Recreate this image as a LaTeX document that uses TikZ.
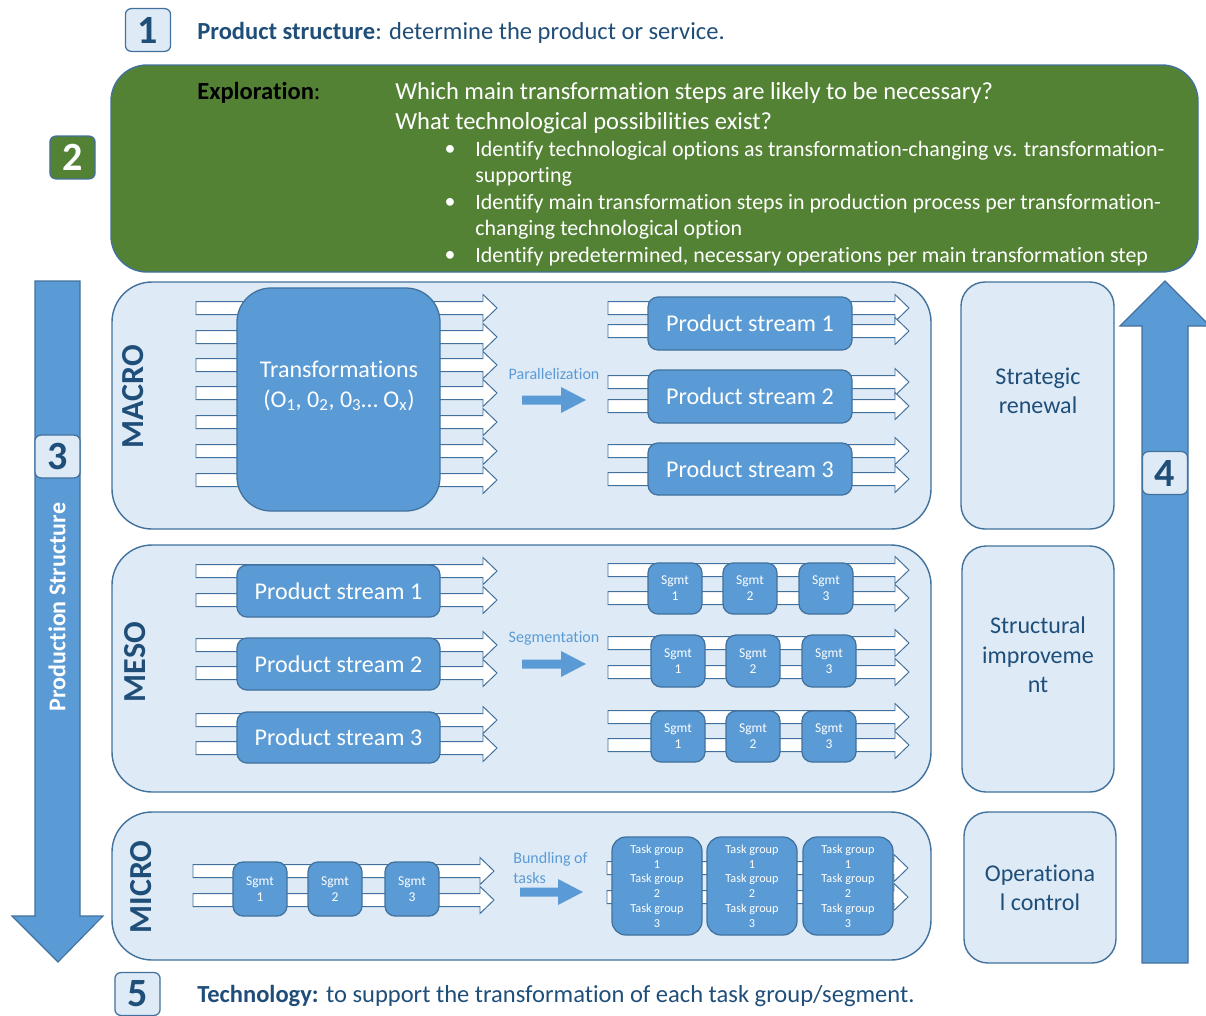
\documentclass[tikz,border=0pt]{standalone}
\usepackage{fontspec}
\setmainfont{Carlito}[Ligatures=NoCommon]
\usetikzlibrary{fit,positioning}
\definecolor{pNavy}{HTML}{1F4E79}
\definecolor{pPale}{HTML}{DEEBF7}
\definecolor{pEdge}{HTML}{41719C}
\definecolor{pMid}{HTML}{5B9BD5}
\definecolor{pGreen}{HTML}{548235}
% white flow arrow: x from, x to, y
\newcommand{\flowarr}[3]{%
  \draw[flow] (#1,#3-6.5) -- ({#2-14},#3-6.5) -- ({#2-14},#3-13.5) -- (#2,#3)
    -- ({#2-14},#3+13.5) -- ({#2-14},#3+6.5) -- (#1,#3+6.5) -- cycle;}
% small blue step arrow: x from, x to, y
\newcommand{\steparr}[3]{%
  \fill[pMid] (#1,#3-4.5) -- ({#2-25},#3-4.5) -- ({#2-25},#3-13) -- (#2,#3)
    -- ({#2-25},#3+13) -- ({#2-25},#3+4.5) -- (#1,#3+4.5) -- cycle;}
\tikzset{
  panel/.style   = {draw=pEdge, fill=pPale, line width=1pt, rounded corners=1cm,
                    inner sep=0pt},
  side/.style    = {panel, rounded corners=6mm},
  badge/.style   = {draw=pEdge, fill=pPale, line width=0.9pt, rounded corners=1.5mm,
                    minimum width=1.13cm, minimum height=1.07cm, inner sep=0pt,
                    text=pNavy, font=\bfseries\fontsize{28.5}{28.5}\selectfont},
  opbox/.style   = {draw=pEdge, fill=pMid, line width=0.9pt, inner sep=0pt},
  inlab/.style   = {text=white, inner sep=0pt, align=center},
  strbox/.style  = {opbox, rounded corners=2.5mm},
  strlab/.style  = {inlab, font=\fontsize{17.1}{20}\selectfont},
  sgbox/.style   = {opbox, rounded corners=2.5mm},
  sglab/.style   = {inlab, font=\fontsize{9.6}{11.4}\selectfont},
  tgbox/.style   = {opbox, rounded corners=3.5mm},
  tglab/.style   = {inlab, font=\fontsize{8.7}{10.5}\selectfont},
  flow/.style    = {draw=pEdge, fill=white, line width=0.7pt},
  bigarr/.style  = {draw=pEdge, fill=pMid, line width=0.8pt},
  lvl/.style     = {rotate=90, text=pNavy, inner sep=0pt,
                    font=\bfseries\fontsize{22.8}{22.8}\selectfont},
  steplab/.style = {text=pMid, inner sep=0pt, align=left,
                    font=\fontsize{11.4}{14}\selectfont},
  sidelab/.style = {text=pNavy, inner sep=0pt, align=center,
                    font=\fontsize{17.1}{21}\selectfont},
  hdr/.style     = {text=pNavy, inner sep=0pt, anchor=west,
                    font=\fontsize{17.45}{20}\selectfont},
  qtxt/.style    = {text=white, inner sep=0pt, anchor=west,
                    font=\fontsize{17.45}{20}\selectfont},
  btxt/.style    = {text=white, inner sep=0pt,
                    font=\fontsize{15.6}{18}\selectfont},
}
\begin{document}
\begin{tikzpicture}[x=0.025cm, y=-0.025cm]
  \useasboundingbox (0,0) rectangle (1206,1015);

  % step 1 and the exploration block
  \node[badge] (one) at (148,30) {1};
  \node[hdr] (prodtxt) at (197,33)
    {\textbf{Product structure}: determine the product or service.};
  \node[draw=pEdge, fill=pGreen, line width=1pt, rounded corners=9mm,
        inner sep=0pt, fit={(111,65) (1198,272)}] (explore) {};
  \node[badge, fill=pGreen, text=white] (two) at (72.5,157.5) {2};
  \node[hdr, text=black] (expl) at (197,93) {\textbf{Exploration}:};
  \node[qtxt] (q1) at (395,93)
    {Which main transformation steps are likely to be necessary?};
  \node[qtxt] (q2) at (395,123) {What technological possibilities exist?};
  \foreach \y in {150,203,256}
    \node[btxt] (dot\y) at (450,\y) {\textbullet};
  \foreach \y/\t in {150/{Identify technological options as transformation-changing vs. transformation-},
                     176/{supporting},
                     203/{Identify main transformation steps in production process per transformation-},
                     229/{changing technological option},
                     256/{Identify predetermined, necessary operations per main transformation step}}
    \node[btxt, anchor=west] (ln\y) at (475,\y+1) {\t};

  % production structure (down) and improvement (up)
  \draw[bigarr] (35,281) -- (80,281) -- (80,916) -- (103,916) -- (58,962)
    -- (12,916) -- (35,916) -- cycle;
  \draw[bigarr] (1142,963) -- (1142,326) -- (1120,326) -- (1165,281)
    -- (1210,326) -- (1188,326) -- (1188,963) -- cycle;
  \node[badge] (three) at (57.5,456.5) {3};
  \node[badge] (four) at (1165,473) {4};
  \node[rotate=90, text=white, inner sep=0pt,
        font=\bfseries\fontsize{17.1}{20}\selectfont] (prodstr) at (57,607)
    {Production Structure};

  % levels
  \node[panel, fit={(112,282) (931,529)}] (macro) {};
  \node[panel, fit={(112,545) (931,792)}] (meso) {};
  \node[panel, fit={(112,812) (931,960)}] (micro) {};
  \node[lvl] (lmacro) at (133,397) {MACRO};
  \node[lvl] (lmeso) at (135,662) {MESO};
  \node[lvl] (lmicro) at (141,887) {MICRO};

  \node[side, fit={(961,282) (1114,529)}] (strat) {};
  \node[side, fit={(962,546) (1114,792)}] (struct) {};
  \node[side, fit={(964,812) (1116,963)}] (opctl) {};
  \node[sidelab] (stratlab) at (1038,391) {Strategic\\renewal};
  \node[sidelab] (structlab) at (1038,655) {Structural\\improveme\\nt};
  \node[sidelab] (opctllab) at (1040,888) {Operationa\\l control};

  % macro
  \foreach \y in {308,337,365,393,422,451,480} {\flowarr{196}{497}{\y}}
  \foreach \y in {308,331,382,406,451,479} {\flowarr{608}{909}{\y}}
  \node[opbox, rounded corners=8.5mm, fit={(237,288) (440,511)}] (transf) {};
  \node[inlab, font=\fontsize{17.1}{21}\selectfont] (transflab) at (339,386)
    {Transformations\\(O\textsubscript{1}, 0\textsubscript{2}, 0\textsubscript{3}… O\textsubscript{x})};
  \foreach \k/\ya/\yb in {1/297/350, 2/370/423, 3/443/495}
    \node[strbox, fit={(648,\ya) (852,\yb)},
          label={[strlab]center:Product stream \k}] (ps\k) {};
  \node[steplab] (parlab) at (554,374) {Parallelization};
  \steparr{522}{586}{400}

  % meso
  \foreach \y in {571,600,645,673,720,748} {\flowarr{196}{497}{\y}}
  \foreach \y in {570,598,643,672,717,745} {\flowarr{608}{909}{\y}}
  \foreach \k/\ya/\yb in {1/565/617, 2/638/690, 3/712/763}
    \node[strbox, fit={(237,\ya) (440,\yb)},
          label={[strlab]center:Product stream \k}] (ms\k) {};
  \foreach \r/\ya/\yb/\xs in {1/563/614/0, 2/635/687/3, 3/711/762/3}
    \foreach \k/\xa in {1/648, 2/723, 3/799}
      \node[sgbox, fit={(\xa+\xs,\ya) (\xa+\xs+54,\yb)},
            label={[sglab]center:Sgmt\\\k}] (sg\r\k) {};
  \node[steplab] (seglab) at (554,638) {Segmentation};
  \steparr{522}{586}{664}

  % micro
  \foreach \y in {871,900} {\flowarr{193}{494}{\y}}
  \foreach \y in {868,897} {\flowarr{607}{908}{\y}}
  \foreach \k/\xa in {1/233, 2/308, 3/385}
    \node[sgbox, fit={(\xa,862) (\xa+54,916)},
          label={[sglab]center:Sgmt\\\k}] (mi\k) {};
  \foreach \k/\xa/\xb in {1/612/702, 2/707/797, 3/803/893}
    \node[tgbox, fit={(\xa,837) (\xb,935)},
          label={[tglab]center:Task group\\1\\Task group\\2\\Task group\\3}] (tg\k) {};
  \node[steplab, anchor=west] (bunlab) at (513,868) {Bundling of\\tasks};
  \steparr{520}{583}{892}

  % step 5
  \node[badge] (five) at (137.5,994) {5};
  \node[hdr] (techtxt) at (197,996)
    {\textbf{Technology:} to support the transformation of each task group/segment.};
\end{tikzpicture}
\end{document}
